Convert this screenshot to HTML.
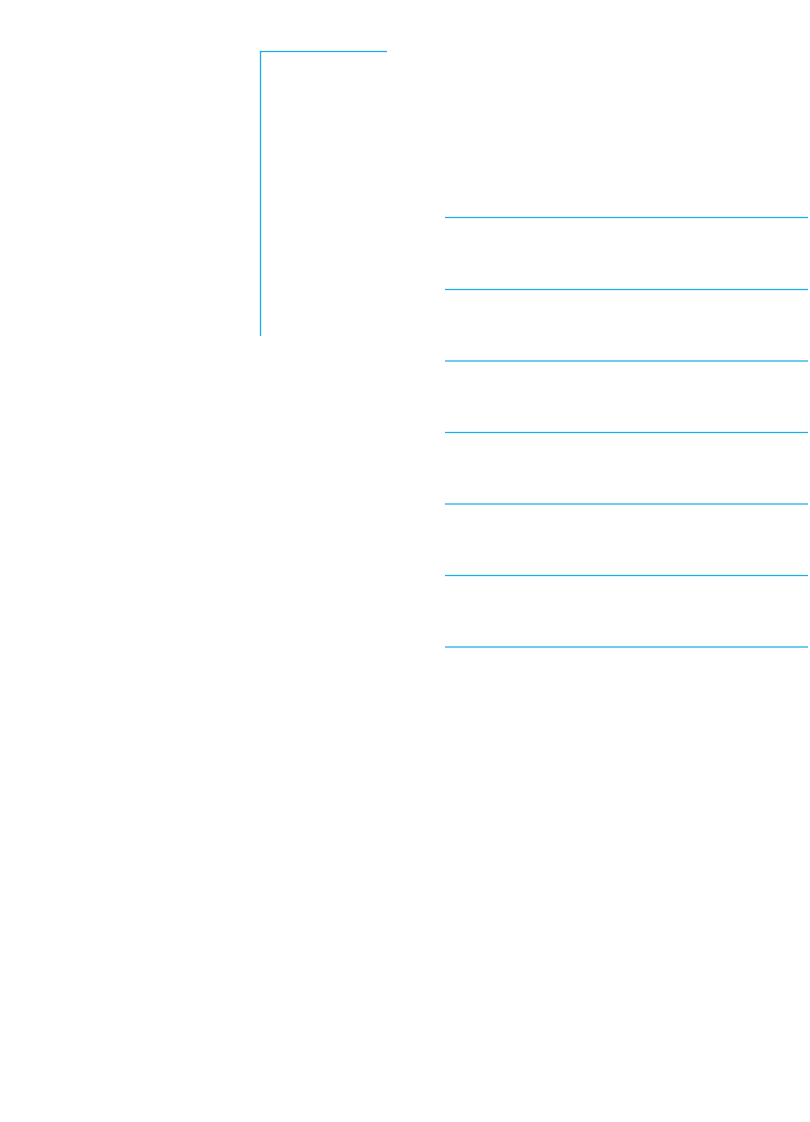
<!DOCTYPE html>
<html><head><meta charset="utf-8"><style>html,body{margin:0;padding:0;background:#fff;width:810px;height:1122px;overflow:hidden}</style></head>
<body>
<svg width="810" height="1122" xmlns="http://www.w3.org/2000/svg" style="display:block">
<g stroke="#1aaee5" stroke-width="1.3" fill="none">
<polyline points="260.5,336 260.5,51.5 387,51.5"/>
<line x1="445" y1="217.5" x2="808" y2="217.5"/>
<line x1="445" y1="289.5" x2="808" y2="289.5"/>
<line x1="445" y1="361" x2="808" y2="361"/>
<line x1="445" y1="432.5" x2="808" y2="432.5"/>
<line x1="445" y1="504" x2="808" y2="504"/>
<line x1="445" y1="575.5" x2="808" y2="575.5"/>
<line x1="445" y1="647" x2="808" y2="647"/>
</g>
</svg>
</body></html>
